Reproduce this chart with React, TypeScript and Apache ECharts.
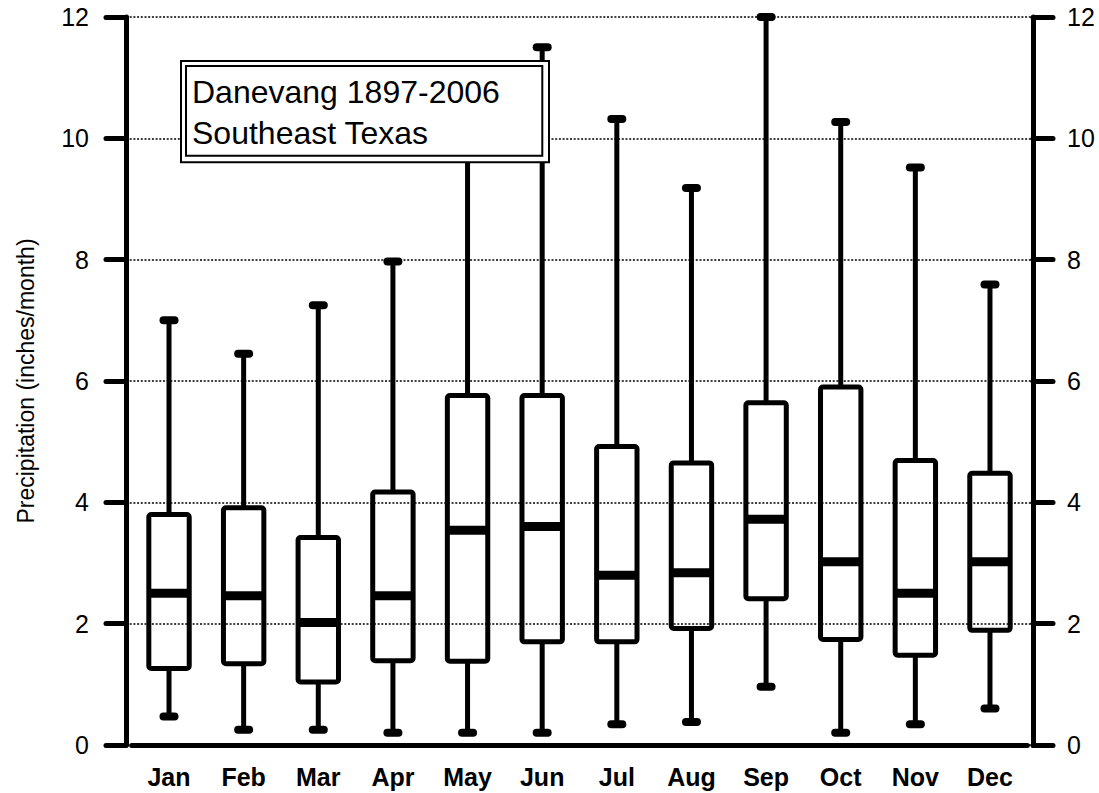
import React, { useEffect, useRef } from "react";
import * as echarts from "echarts";

const months = ["Jan", "Feb", "Mar", "Apr", "May", "Jun", "Jul", "Aug", "Sep", "Oct", "Nov", "Dec"];
const maxV = [7.0, 6.45, 7.25, 7.97, 10.6, 11.5, 10.32, 9.18, 12.0, 10.27, 9.52, 7.59];
const q3V = [3.8, 3.91, 3.42, 4.17, 5.76, 5.76, 4.92, 4.65, 5.64, 5.9, 4.69, 4.48];
const medV = [2.5, 2.46, 2.02, 2.46, 3.54, 3.6, 2.8, 2.84, 3.72, 3.02, 2.5, 3.02];
const q1V = [1.26, 1.34, 1.04, 1.39, 1.38, 1.7, 1.7, 1.92, 2.41, 1.74, 1.48, 1.89];
const minV = [0.47, 0.25, 0.25, 0.2, 0.2, 0.2, 0.34, 0.38, 0.96, 0.2, 0.34, 0.6];
const yTicks = [0, 2, 4, 6, 8, 10, 12];

const FONT = "Arial, 'Liberation Sans', Helvetica, sans-serif";

export default function App() {
  const ref = useRef<HTMLDivElement>(null);
  useEffect(() => {
    if (!ref.current) return;
    const chart = echarts.init(ref.current, null, { renderer: "svg" });
    const data = months.map((m, i) => [i, minV[i], q1V[i], medV[i], q3V[i], maxV[i]]);
    const yMin = yTicks[0];
    const yMax = yTicks[yTicks.length - 1];
    const step = yTicks[1] - yTicks[0];
    const tickCommon = {
      show: true,
      inside: false,
      length: 20,
      lineStyle: { color: "#000", width: 5, cap: "round" },
    };
    const option: any = {
      animation: false,
      backgroundColor: "#fff",
      grid: [
        { left: 126, right: 66, top: 17, bottom: 48 },
        { left: 131.7, right: 1099 - 1027.3, top: 17, bottom: 48 },
      ],
      xAxis: [
        { type: "value", gridIndex: 0, show: false, min: 0, max: 1 },
        {
          type: "category",
          gridIndex: 1,
          data: months,
          boundaryGap: true,
          axisLine: { show: true, lineStyle: { color: "#000", width: 5 } },
          axisTick: { show: false },
          splitLine: { show: false },
          axisLabel: {
            color: "#000",
            fontFamily: FONT,
            fontSize: 25,
            fontWeight: "bold",
            margin: 19,
          },
        },
      ],
      yAxis: [
        {
          type: "value",
          gridIndex: 0,
          position: "left",
          min: yMin,
          max: yMax,
          interval: step,
          axisLine: { show: true, lineStyle: { color: "#000", width: 5, cap: "round" } },
          axisTick: tickCommon,
          axisLabel: { color: "#000", fontFamily: FONT, fontSize: 25, margin: 37 },
          splitLine: {
            show: true,
            lineStyle: { color: "#000", width: 1.7, type: [2, 1.7] },
          },
        },
        {
          type: "value",
          gridIndex: 0,
          position: "right",
          min: yMin,
          max: yMax,
          interval: step,
          axisLine: { show: true, lineStyle: { color: "#000", width: 5, cap: "round" } },
          axisTick: tickCommon,
          axisLabel: { color: "#000", fontFamily: FONT, fontSize: 25, margin: 34 },
          splitLine: { show: false },
        },
        {
          type: "value",
          gridIndex: 1,
          min: yMin,
          max: yMax,
          show: false,
        },
      ],
      series: [
        {
          type: "custom",
          xAxisIndex: 1,
          yAxisIndex: 2,
          z: 2,
          encode: { x: 0, y: [1, 2, 3, 4, 5] },
          data,
          renderItem: (params: any, api: any) => {
            const idx = api.value(0);
            const pMin = api.coord([idx, api.value(1)]);
            const pQ1 = api.coord([idx, api.value(2)]);
            const pMed = api.coord([idx, api.value(3)]);
            const pQ3 = api.coord([idx, api.value(4)]);
            const pMax = api.coord([idx, api.value(5)]);
            const x = pMin[0];
            const half = 20.2;
            const lw = 5;
            const black = "#000";
            return {
              type: "group",
              children: [
                {
                  type: "line",
                  shape: { x1: x, y1: pQ3[1], x2: x, y2: pMax[1] },
                  style: { stroke: black, lineWidth: lw },
                },
                {
                  type: "line",
                  shape: { x1: x, y1: pQ1[1], x2: x, y2: pMin[1] },
                  style: { stroke: black, lineWidth: lw },
                },
                {
                  type: "rect",
                  shape: { x: x - 9.5, y: pMax[1] - 4, width: 19, height: 8, r: 4 },
                  style: { fill: black },
                },
                {
                  type: "rect",
                  shape: { x: x - 9.5, y: pMin[1] - 4, width: 19, height: 8, r: 4 },
                  style: { fill: black },
                },
                {
                  type: "rect",
                  shape: { x: x - half, y: pQ3[1], width: half * 2, height: pQ1[1] - pQ3[1], r: 2.5 },
                  style: { fill: "none", stroke: black, lineWidth: lw },
                },
                {
                  type: "line",
                  shape: { x1: x - half, y1: pMed[1], x2: x + half, y2: pMed[1] },
                  style: { stroke: black, lineWidth: 9 },
                },
              ],
            };
          },
        },
      ],
      graphic: [
        {
          type: "text",
          x: 26,
          y: 381,
          rotation: Math.PI / 2,
          z: 10,
          style: {
            text: "Precipitation (inches/month)",
            fill: "#000",
            font: `23px ${FONT}`,
            align: "center",
            verticalAlign: "middle",
          },
        },
        {
          type: "rect",
          z: 100,
          shape: { x: 181, y: 61, width: 368, height: 101.3 },
          style: { fill: "#fff", stroke: "#000", lineWidth: 2 },
        },
        {
          type: "rect",
          z: 101,
          shape: { x: 186, y: 66, width: 356.3, height: 89.7 },
          style: { fill: "none", stroke: "#000", lineWidth: 2 },
        },
        {
          type: "text",
          z: 102,
          x: 192,
          y: 91.5,
          style: {
            text: "Danevang 1897-2006",
            fill: "#000",
            font: `32px ${FONT}`,
            align: "left",
            verticalAlign: "middle",
          },
        },
        {
          type: "text",
          z: 102,
          x: 192,
          y: 133,
          style: {
            text: "Southeast Texas",
            fill: "#000",
            font: `32px ${FONT}`,
            align: "left",
            verticalAlign: "middle",
          },
        },
      ],
    };
    chart.setOption(option);
    return () => chart.dispose();
  }, []);
  return (
    <div
      ref={ref}
      style={{ position: "fixed", left: 0, top: 0, width: 1099, height: 793, background: "#fff" }}
    />
  );
}
